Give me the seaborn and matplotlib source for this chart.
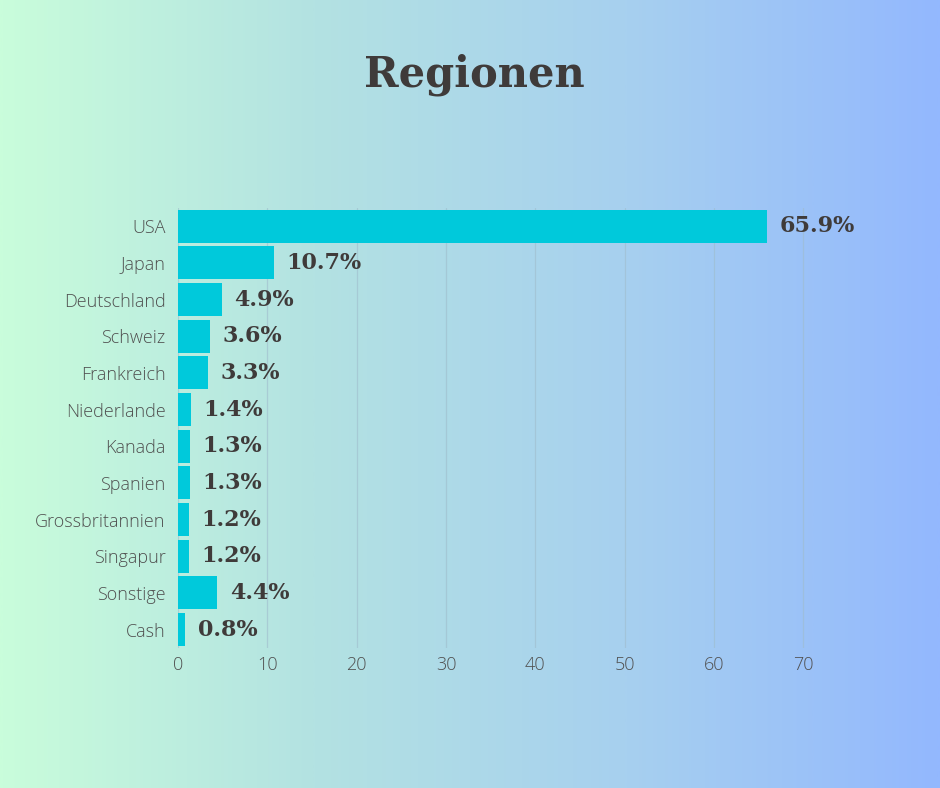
import numpy as np
import pandas as pd
import matplotlib
matplotlib.use("Agg")
import matplotlib.pyplot as plt
import seaborn as sns
from matplotlib.colors import LinearSegmentedColormap

regions = ["USA", "Japan", "Deutschland", "Schweiz", "Frankreich", "Niederlande",
           "Kanada", "Spanien", "Grossbritannien", "Singapur", "Sonstige", "Cash"]
shares = [65.9, 10.7, 4.9, 3.6, 3.3, 1.4, 1.3, 1.3, 1.2, 1.2, 4.4, 0.8]
x_ticks = [0, 10, 20, 30, 40, 50, 60, 70]
title = "Regionen"

df = pd.DataFrame({"Region": regions, "Anteil": shares})

sns.set_theme(style="white")
plt.rcParams["font.family"] = ["Open Sans", "DejaVu Sans"]

fig = plt.figure(figsize=(9.4, 7.88), dpi=100)

# gradient background
bg = fig.add_axes([0, 0, 1, 1], zorder=-10)
cmap = LinearSegmentedColormap.from_list("bg", ["#c9fddb", "#b3e2e2", "#a7d0ef", "#93b8fe"])
grad = np.linspace(0, 1, 512).reshape(1, -1)
bg.imshow(grad, aspect="auto", cmap=cmap, extent=[0, 1, 0, 1])
bg.set_axis_off()

ax = fig.add_axes([0.1894, 0.1777, 0.7223, 0.5584])
ax.patch.set_alpha(0)
sns.barplot(data=df, x="Anteil", y="Region", ax=ax, color="#00c9db",
            saturation=1, width=0.9, orient="h", edgecolor="none", linewidth=0)

ax.set_xlim(0, 76)
ax.set_xticks(x_ticks)
ax.set_xlabel("")
ax.set_ylabel("")
for s in ax.spines.values():
    s.set_visible(False)
ax.grid(axis="x", color="#9fbccc", linewidth=0.9, alpha=0.6)
ax.grid(axis="y", visible=False)
ax.set_axisbelow(True)
ax.tick_params(axis="both", length=0, labelsize=13, labelcolor="#505050")
ax.tick_params(axis="y", pad=9)
ax.tick_params(axis="x", pad=6)
for lab in ax.get_xticklabels() + ax.get_yticklabels():
    lab.set_fontweight("light")

for cont in ax.containers:
    ax.bar_label(cont, labels=[f"{v:.1f}%" for v in shares], padding=9,
                 fontsize=16, fontweight="bold", family="DejaVu Serif",
                 color="#3f3b3a")

fig.text(0.505, 0.905, title, ha="center", va="center", fontsize=30,
         fontweight="bold", family="DejaVu Serif", color="#3f3b3a")

fig.savefig("out.png", dpi=100)
